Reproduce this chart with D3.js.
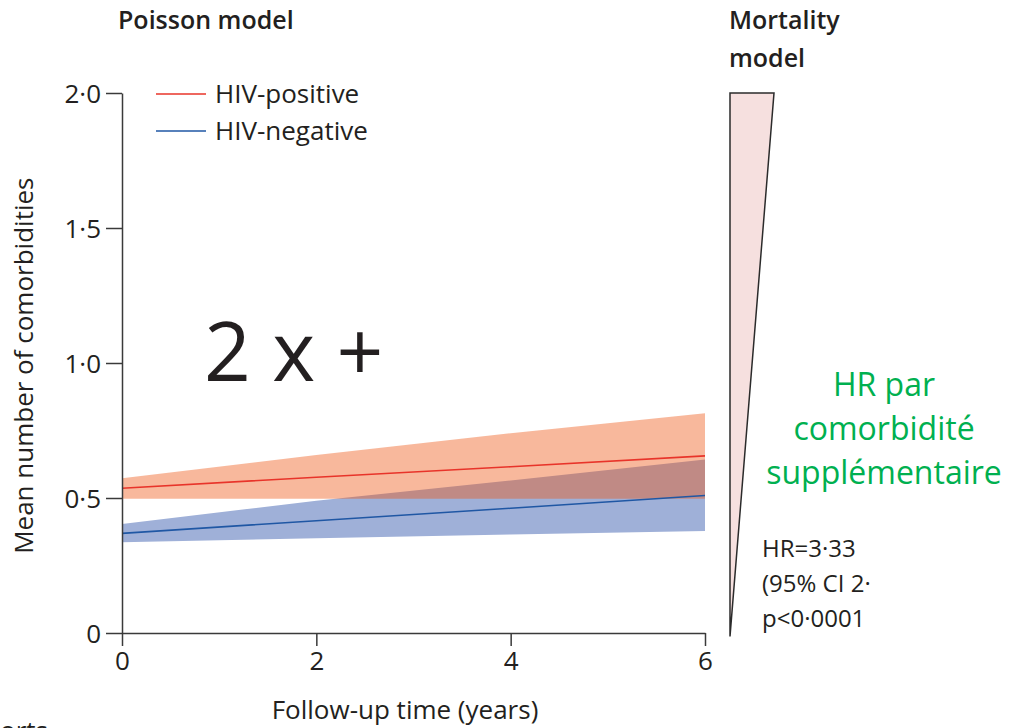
<!DOCTYPE html>
<html>
<head>
<meta charset="utf-8">
<script src="https://cdn.jsdelivr.net/npm/d3@7"></script>
<style>
  body { margin: 0; background: #fff; }
  svg { display: block; }
  text { font-family: "Open Sans", Lato, sans-serif; fill: #231f20; }
</style>
</head>
<body>
<svg id="canvas" width="1012" height="728"></svg>
<script>
// data
let years = [0, 2, 4, 6];
let posMean = [0.536, 0.577, 0.616, 0.656];
let posLower = [0.497, 0.497, 0.497, 0.497];
let posUpper = [0.573, 0.659, 0.740, 0.814];
let negMean = [0.369, 0.416, 0.462, 0.509];
let negLower = [0.336, 0.351, 0.365, 0.378];
let negUpper = [0.404, 0.490, 0.565, 0.643];

let yTicks = [0, 0.5, 1, 1.5, 2];
let xTicks = [0, 2, 4, 6];
let legendNames = ['HIV-positive', 'HIV-negative'];
let hrLines = ['HR=3·33', '(95% CI 2·', 'p<0·0001'];
let greenLines = ['HR par', 'comorbidité', 'supplémentaire'];

let canvas = d3.select('#canvas');

let xScale = d3.scaleLinear().domain([0, 6]).range([122, 705]);
let yScale = d3.scaleLinear().domain([0, 2]).range([633, 93]);

let fmtY = (d) => d === 0 ? '0' : d.toFixed(1).replace('.', '·');

let drawCanvas = () => {
    let band = (lo, hi) => d3.area()
        .x((d, i) => xScale(years[i]))
        .y0((d, i) => yScale(lo[i]))
        .y1((d, i) => yScale(hi[i]));
    let line = (vals) => d3.line()
        .x((d, i) => xScale(years[i]))
        .y((d, i) => yScale(vals[i]));

    // confidence bands
    canvas.append('path')
        .attr('d', band(negLower, negUpper)(years))
        .attr('fill', '#9fb0d8');
    canvas.append('path')
        .attr('d', band(posLower, posUpper)(years))
        .attr('fill', '#ee5613')
        .attr('fill-opacity', 0.42);

    canvas.append('path')
        .attr('d', line(posMean)(years))
        .attr('fill', 'none')
        .attr('stroke', '#e8342a')
        .attr('stroke-width', 1.6);
    canvas.append('path')
        .attr('d', line(negMean)(years))
        .attr('fill', 'none')
        .attr('stroke', '#1f57a4')
        .attr('stroke-width', 1.6);

    // axes
    let yAxis = canvas.append('g')
        .attr('transform', 'translate(122,0)')
        .call(d3.axisLeft(yScale).tickValues(yTicks).tickFormat(fmtY)
            .tickSize(16).tickSizeOuter(0).tickPadding(5));
    let xAxis = canvas.append('g')
        .attr('transform', 'translate(0,633)')
        .call(d3.axisBottom(xScale).tickValues(xTicks).tickFormat(d3.format('d'))
            .tickSize(13).tickSizeOuter(0).tickPadding(6));
    [yAxis, xAxis].forEach((ax) => {
        ax.selectAll('path, line').attr('stroke', '#3a3a3a').attr('stroke-width', 1.5);
        ax.selectAll('text').style('font-family', '"Open Sans", sans-serif')
            .style('font-size', '26px').attr('fill', '#231f20');
    });
    yAxis.selectAll('text').attr('dy', '0.36em');

    // titles and axis labels
    canvas.append('text').text('Poisson model')
        .attr('x', 118).attr('y', 29)
        .style('font-size', '25px').style('font-weight', 600);
    canvas.append('text')
        .style('font-size', '25px').style('font-weight', 600)
        .selectAll('tspan').data(['Mortality', 'model']).enter()
        .append('tspan').attr('x', 729).attr('y', (d, i) => 29 + i * 38)
        .text((d) => d);

    canvas.append('text').text('Follow-up time (years)')
        .attr('x', 405).attr('y', 719).attr('text-anchor', 'middle')
        .style('font-size', '26px');
    canvas.append('text').text('Mean number of comorbidities')
        .attr('transform', 'translate(33,' + yScale(0.99) + ') rotate(-90)')
        .attr('text-anchor', 'middle')
        .style('font-size', '26px');

    // legend
    let legend = canvas.selectAll('.legend')
        .data(legendNames).enter().append('g')
        .attr('class', 'legend')
        .attr('transform', (d, i) => 'translate(156,' + (94 + i * 37) + ')');
    legend.append('line')
        .attr('x1', 0).attr('x2', 50)
        .attr('stroke', (d, i) => i === 0 ? '#e8342a' : '#1f57a4')
        .attr('stroke-width', 1.6);
    legend.append('text').text((d) => d)
        .attr('x', 59).attr('dy', '0.35em')
        .style('font-size', '26px');

    // mortality model wedge
    canvas.append('path')
        .attr('d', 'M730,' + yScale(2) + 'L774,' + yScale(2) + 'L730,' + yScale(-0.013) + 'Z')
        .attr('fill', '#f6e0df')
        .attr('stroke', '#2b2b2b')
        .attr('stroke-width', 1.5);

    canvas.append('text')
        .selectAll('tspan').data(hrLines).enter()
        .append('tspan').attr('x', 762).attr('y', (d, i) => 557 + i * 35)
        .style('font-size', '24px')
        .text((d) => d);

    // annotations
    canvas.append('text').text('2 x +')
        .attr('x', 204).attr('y', 381)
        .style('font-family', '"Open Sans", sans-serif')
        .style('font-size', '82px').attr('fill', '#000');

    canvas.append('text')
        .attr('text-anchor', 'middle')
        .style('font-family', '"Open Sans", sans-serif')
        .style('font-size', '32px')
        .selectAll('tspan').data(greenLines).enter()
        .append('tspan').attr('x', 884).attr('y', (d, i) => 396 + i * 44)
        .style('fill', '#00b050')
        .text((d) => d);

    canvas.append('text').text('orts')
        .attr('x', 0).attr('y', 740)
        .style('font-size', '26px');
};

drawCanvas();
</script>
</body>
</html>
